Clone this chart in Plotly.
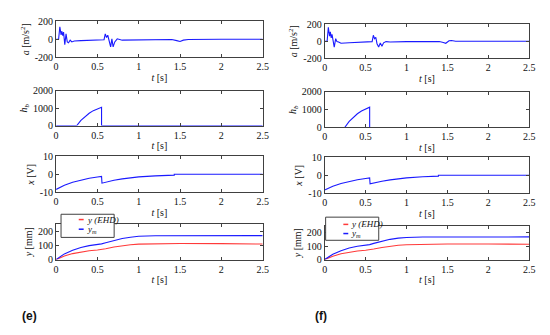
import plotly.graph_objects as go

# ---------------- data: panel (e) ----------------
t_a_e = [0, 0.03, 0.045, 0.06, 0.07, 0.08, 0.09, 0.105, 0.12, 0.135, 0.15, 0.17, 0.19, 0.22, 0.3, 0.45, 0.58,
         0.595, 0.61, 0.625, 0.64, 0.66, 0.675, 0.69, 0.71, 0.74, 0.8, 1.0, 1.4, 1.46, 1.5, 1.54, 1.6, 2.0, 2.5]
a_e = [0, 0, 140, 50, 90, 40, 80, -60, 60, -30, -40, -10, -30, -20, -15, -8, -5,
       60, 20, 45, -30, -85, 5, -85, -30, 5, -10, -5, -3, -15, -25, -10, -3, 0, 0]

t_h_e = [0, 0.25, 0.3, 0.35, 0.4, 0.45, 0.5, 0.55, 0.55, 2.5]
h_e = [0, 0, 300, 530, 710, 860, 970, 1050, 0, 0]

t_x_e = [0, 0.1, 0.2, 0.3, 0.4, 0.5, 0.55, 0.555, 0.6, 0.7, 0.8, 0.9, 1.0, 1.2, 1.43, 1.43, 2.5]
x_e = [-8.5, -6.2, -4.5, -3.2, -2.2, -1.5, -1.2, -5.0, -4.4, -3.4, -2.6, -2.0, -1.5, -0.9, -0.5, 0, 0]

t_y = [0, 0.05, 0.1, 0.2, 0.3, 0.4, 0.5, 0.55, 0.6, 0.7, 0.8, 0.9, 1.0, 1.2, 1.5, 2.0, 2.5]
y_ehd_e = [0, 12, 25, 42, 54, 62, 67, 70, 76, 88, 97, 104, 108, 111, 113, 112, 109]
y_m_e = [0, 20, 40, 65, 85, 98, 105, 110, 118, 135, 148, 157, 163, 167, 168, 168, 168]

# ---------------- data: panel (f) ----------------
t_a_f = [0, 0.03, 0.045, 0.06, 0.07, 0.08, 0.09, 0.105, 0.117, 0.135, 0.15, 0.17, 0.2, 0.3, 0.45, 0.58,
         0.595, 0.61, 0.625, 0.64, 0.66, 0.68, 0.70, 0.72, 0.75, 0.8, 1.0, 1.4, 1.45, 1.48, 1.52, 1.55, 1.6, 2.0, 2.5]
a_f = [0, 0, 165, 60, 110, 40, 80, 10, -70, 30, -5, -10, -25, -18, -10, -5,
       70, 30, 45, -30, -70, -20, -60, -20, -5, -10, -5, -3, -15, -25, 5, 8, 0, 0, 0]

t_h_f = [0, 0.245, 0.3, 0.35, 0.4, 0.45, 0.5, 0.55, 0.55, 2.5]
h_f = [0, 0, 340, 580, 770, 920, 1040, 1140, 0, 0]

t_x_f = [0, 0.1, 0.2, 0.3, 0.4, 0.5, 0.55, 0.555, 0.6, 0.7, 0.8, 0.9, 1.0, 1.2, 1.39, 1.39, 2.5]
x_f = [-8.3, -6.2, -4.6, -3.4, -2.5, -1.8, -1.5, -4.8, -4.3, -3.4, -2.6, -2.0, -1.5, -0.9, -0.5, 0, 0]

y_ehd_f = [0, 12, 25, 43, 56, 64, 69, 72, 78, 90, 99, 106, 110, 113, 115, 115, 114]
y_m_f = [0, 20, 40, 66, 86, 99, 106, 111, 120, 137, 150, 159, 164, 167, 168, 168, 168]

t_ticks = [0, 0.5, 1, 1.5, 2, 2.5]
t_tick_text = ["0", "0.5", "1", "1.5", "2", "2.5"]
y_tick_vals = [[-200, 0, 200], [0, 1000, 2000], [-10, 0, 10], [0, 100, 200]]
y_tick_text = [["-200", "0", "200"], ["0", "1000", "2000"], ["-10", "0", "10"], ["0", "100", "200"]]
y_ranges = [[-200, 200], [0, 2000], [-10, 10], [0, 250]]
y_labels = ["<i>a</i> [m/s<sup>2</sup>]", "<i>h</i><sub><i>b</i></sub>", "<i>x</i> [V]", "<i>y</i> [mm]"]
legend_names = ["<i>y (EHD)</i>", "<i>y</i><sub><i>m</i></sub>"]

# ---------------- layout ----------------
W, H = 550, 335
FONT = "Liberation Serif, Times New Roman, serif"
BLUE = "#1a1aff"
RED = "#ff3a3a"
AX = "#404040"
TXT = "#111111"

cols = [(54, 264), (327, 535)]
rows = [[(16, 53), (88, 124), (156, 193), (226, 263)],
        [(19, 54), (89, 126), (157, 194), (228, 263)]]
# legend boxes: (x0, x1, y0, y1, sample x0, sample x1, entry y1, entry y2)
leg_geo = [(59, 113, 216, 240, 77, 82, 221.5, 231.5),
           (328, 382, 219, 243, 346, 351, 226.5, 236)]

fig = go.Figure()

series = [
    [(t_a_e, a_e), (t_h_e, h_e), (t_x_e, x_e)],
    [(t_a_f, a_f), (t_h_f, h_f), (t_x_f, x_f)],
]
yy = [(y_ehd_e, y_m_e), (y_ehd_f, y_m_f)]

layout = {}
k = 0
for c in range(2):
    for r in range(4):
        k += 1
        xa = "x" if k == 1 else f"x{k}"
        ya = "y" if k == 1 else f"y{k}"
        if r < 3:
            tx, vy = series[c][r]
            fig.add_trace(go.Scatter(x=tx, y=vy, mode="lines", line=dict(color=BLUE, width=1.1),
                                     xaxis=xa, yaxis=ya, showlegend=False))
        else:
            fig.add_trace(go.Scatter(x=t_y, y=yy[c][0], mode="lines", line=dict(color=RED, width=1.1),
                                     name=legend_names[0], xaxis=xa, yaxis=ya, showlegend=False))
            fig.add_trace(go.Scatter(x=t_y, y=yy[c][1], mode="lines", line=dict(color=BLUE, width=1.1),
                                     name=legend_names[1], xaxis=xa, yaxis=ya, showlegend=False))
        x0, x1 = cols[c]
        y0, y1 = rows[c][r]
        common = dict(showline=True, linecolor=AX, linewidth=1, mirror="ticks", ticks="inside",
                      ticklen=3, tickcolor=AX, showgrid=False, zeroline=False,
                      tickfont=dict(family=FONT, size=10, color=TXT))
        layout["xaxis" if k == 1 else f"xaxis{k}"] = dict(
            domain=[x0 / W, x1 / W], anchor=ya, range=[0, 2.5], tickvals=t_ticks, ticktext=t_tick_text,
            title=dict(text="<i>t</i> [s]", font=dict(family=FONT, size=10, color=TXT), standoff=2),
            **common)
        layout["yaxis" if k == 1 else f"yaxis{k}"] = dict(
            domain=[1 - y1 / H, 1 - y0 / H], anchor=xa, range=y_ranges[r], tickvals=y_tick_vals[r],
            ticktext=y_tick_text[r],
            title=dict(text=y_labels[r], font=dict(family=FONT, size=10, color=TXT), standoff=3),
            **common)

fig.update_layout(width=W, height=H, margin=dict(l=0, r=0, t=0, b=0), showlegend=False,
                  font=dict(family=FONT, size=10, color=TXT),
                  paper_bgcolor="white", plot_bgcolor="white", **layout)

# legend boxes (drawn in paper space, on top of the curves)
for c, (bx0, bx1, by0, by1, sx0, sx1, ey1, ey2) in enumerate(leg_geo):
    fig.add_shape(type="rect", xref="paper", yref="paper", x0=bx0 / W, x1=bx1 / W,
                  y0=1 - by1 / H, y1=1 - by0 / H, line=dict(color=AX, width=1), fillcolor="white", layer="above")
    for ey, col, name in ((ey1, RED, legend_names[0]), (ey2, BLUE, legend_names[1])):
        fig.add_shape(type="line", xref="paper", yref="paper", x0=sx0 / W, x1=sx1 / W,
                      y0=1 - ey / H, y1=1 - ey / H, line=dict(color=col, width=1.5), layer="above")
        fig.add_annotation(x=(sx1 + 1) / W, y=1 - ey / H, xref="paper", yref="paper", text=name,
                           showarrow=False, xanchor="left", yanchor="middle",
                           font=dict(family=FONT, size=9, color=TXT))

fig.add_annotation(x=17 / W, y=1 - 321 / H, xref="paper", yref="paper", text="<b>(e)</b>", showarrow=False,
                   xanchor="left", yanchor="middle", font=dict(family="Liberation Sans", size=12, color=TXT))
fig.add_annotation(x=315 / W, y=1 - 321 / H, xref="paper", yref="paper", text="<b>(f)</b>", showarrow=False,
                   xanchor="left", yanchor="middle", font=dict(family="Liberation Sans", size=12, color=TXT))

fig.write_html("out.html", config={"displayModeBar": False},
               post_script="document.body.style.margin='0';document.body.style.overflow='hidden';")
